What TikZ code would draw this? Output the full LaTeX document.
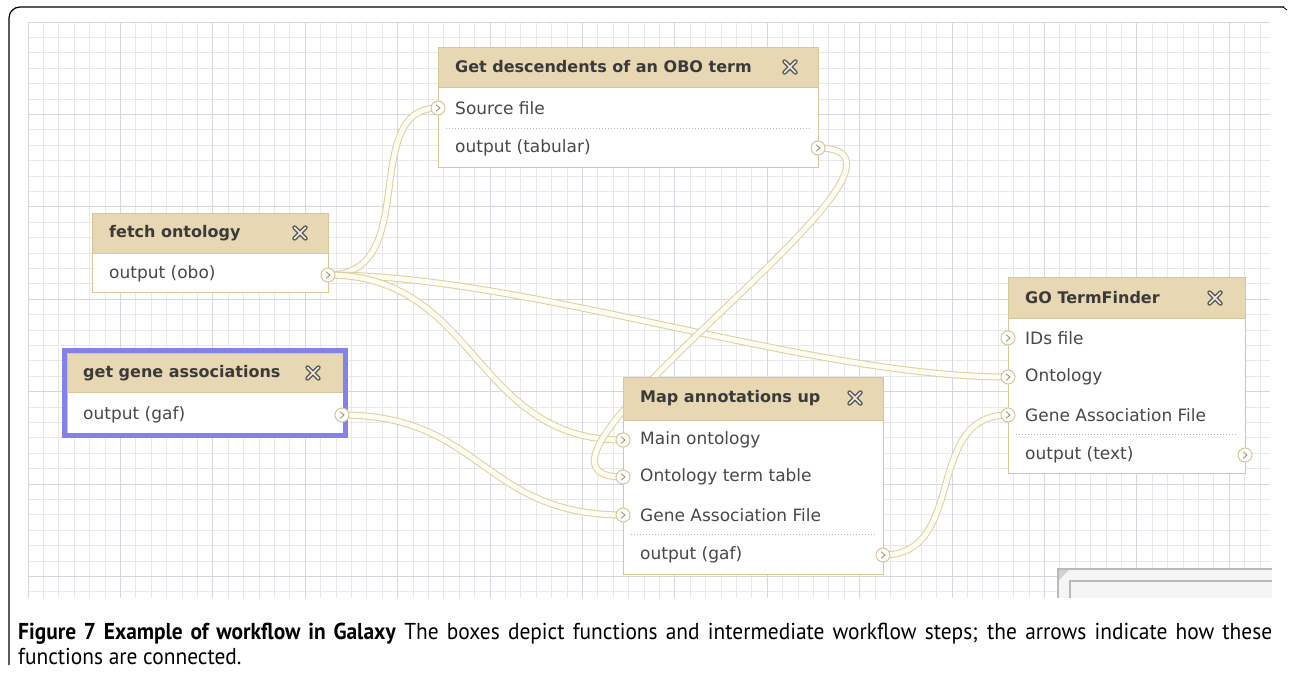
\documentclass[tikz,border=0pt]{standalone}
\usepackage{fontspec}
\newfontfamily\boxfont{DejaVu Sans}
\newfontfamily\capfont[FakeStretch=0.93]{PT Sans}
\usetikzlibrary{calc}

\definecolor{headfill}{RGB}{231,215,178}
\definecolor{boxline}{RGB}{216,198,152}
\definecolor{selblue}{RGB}{130,130,232}
\definecolor{pipeedge}{RGB}{222,206,160}
\definecolor{pipefill}{RGB}{255,253,241}
\definecolor{gridminor}{RGB}{231,231,237}
\definecolor{gridmajor}{RGB}{214,214,222}
\definecolor{textgray}{RGB}{72,72,72}
\definecolor{icongray}{RGB}{85,85,85}

\pgfdeclarelayer{grid}
\pgfdeclarelayer{pipes}
\pgfsetlayers{grid,pipes,main}

\tikzset{
    stepbody/.style={draw=boxline, fill=white, line width=1.2pt, anchor=north west, inner sep=0},
    stephead/.style={draw=boxline, fill=headfill, line width=1.2pt, anchor=north west, inner sep=0},
    titletext/.style={anchor=west, inner sep=0, text=textgray!80!black, font=\boxfont\bfseries\fontsize{16}{16}\selectfont},
    rowtext/.style={anchor=west, inner sep=0, text=textgray, font=\boxfont\fontsize{17}{17}\selectfont},
    sepline/.style={draw=gray!60, dotted, line width=1pt},
    selframe/.style={draw=selblue, line width=5pt},
    pipe/.style={draw=pipeedge, line width=1pt, double=pipefill, double distance=5pt},
    port/.style={circle, draw=boxline, fill=white, line width=1pt, minimum size=14pt, inner sep=0,
        path picture={\draw[boxline!75!black, line width=0.9pt]
            ([xshift=-1.8pt,yshift=3.2pt]path picture bounding box.center) --
            ([xshift=2pt]path picture bounding box.center) --
            ([xshift=-1.8pt,yshift=-3.2pt]path picture bounding box.center);}},
    closeicon/.style={minimum size=20pt, inner sep=0,
        path picture={
            \draw[icongray, line width=4.4pt, line cap=round]
                ([xshift=-5.5pt,yshift=5.5pt]path picture bounding box.center) --
                ([xshift=5.5pt,yshift=-5.5pt]path picture bounding box.center)
                ([xshift=-5.5pt,yshift=-5.5pt]path picture bounding box.center) --
                ([xshift=5.5pt,yshift=5.5pt]path picture bounding box.center);
            \draw[headfill!40!white, line width=1.6pt, line cap=round]
                ([xshift=-5.5pt,yshift=5.5pt]path picture bounding box.center) --
                ([xshift=5.5pt,yshift=-5.5pt]path picture bounding box.center)
                ([xshift=-5.5pt,yshift=-5.5pt]path picture bounding box.center) --
                ([xshift=5.5pt,yshift=5.5pt]path picture bounding box.center);}},
    captext/.style={anchor=north west, inner sep=0, text width=1254pt, align=justify,
        font=\capfont\fontsize{23}{25}\selectfont}
}

\begin{document}
\begin{tikzpicture}[x=1pt, y=-1pt]
    \useasboundingbox (0,0) rectangle (1290,672);

    % page frame
    \draw[line width=1.2pt, rounded corners=11pt] (9,665) -- (9,7) -- (1284,7);
    \draw[line width=0.8pt] (1283,7) -- (1287,10);

    % canvas grid
    \begin{pgfonlayer}{grid}
        \foreach \i in {0,...,80} {
            \draw[gridminor, line width=0.9pt] ({28+15.4*\i},22) -- ({28+15.4*\i},598);
        }
        \foreach \j in {0,...,37} {
            \draw[gridminor, line width=0.9pt] (28,{22+15.4*\j}) -- (1270,{22+15.4*\j});
        }
        \foreach \i in {0,6,...,78} {
            \draw[gridmajor, line width=0.9pt] ({28+15.4*\i},22) -- ({28+15.4*\i},598);
        }
        \foreach \j in {0,6,...,36} {
            \draw[gridmajor, line width=0.9pt] (28,{22+15.4*\j}) -- (1270,{22+15.4*\j});
        }
    \end{pgfonlayer}

    % overview widget
    \fill[gray!8] (1058,568) rectangle (1272,598);
    \draw[gray!55, line width=1.4pt] (1272,569) -- (1058,569) -- (1058,598);
    \draw[gray!55, line width=1.4pt] (1272,581) -- (1070,581) -- (1070,598);
    \fill[gray!35] (1059,570) -- (1069,570) -- (1059,580) -- cycle;

    % Get descendents of an OBO term
    \node[stepbody, minimum width=380pt, minimum height=120pt] (ds) at (438,47) {};
    \node[stephead, minimum width=380pt, minimum height=40pt] (ds-head) at (438,47) {};
    \node[titletext] (ds-title) at (455,67) {Get descendents of an OBO term};
    \node[closeicon] (ds-close) at (790,67) {};
    \node[rowtext] (ds-src) at (455,108) {Source file};
    \draw[sepline] (446,128) -- (810,128);
    \node[rowtext] (ds-tab) at (455,148) {output (tabular)};
    \node[port] (ds-in) at (438,108) {};
    \node[port] (ds-out) at (818,148) {};

    % fetch ontology
    \node[stepbody, minimum width=236pt, minimum height=79pt] (fo) at (92,213) {};
    \node[stephead, minimum width=236pt, minimum height=40pt] (fo-head) at (92,213) {};
    \node[titletext] (fo-title) at (109,233) {fetch ontology};
    \node[closeicon] (fo-close) at (300,233) {};
    \node[rowtext] (fo-obo) at (109,274) {output (obo)};
    \node[port] (fo-out) at (328,275) {};

    % get gene associations (selected)
    \node[stepbody, minimum width=276pt, minimum height=80pt] (ga) at (67,353) {};
    \node[stephead, minimum width=276pt, minimum height=39pt] (ga-head) at (67,353) {};
    \node[titletext] (ga-title) at (83,373) {get gene associations};
    \node[closeicon] (ga-close) at (313,373) {};
    \node[rowtext] (ga-gaf) at (83,415) {output (gaf)};
    \draw[selframe] (64.5,350.5) rectangle (345.5,435.5);
    \node[port] (ga-out) at (342,415) {};

    % Map annotations up
    \node[stepbody, minimum width=260pt, minimum height=197pt] (ma) at (623,377) {};
    \node[stephead, minimum width=260pt, minimum height=43pt] (ma-head) at (623,377) {};
    \node[titletext] (ma-title) at (640,398) {Map annotations up};
    \node[closeicon] (ma-close) at (855,398) {};
    \node[rowtext] (ma-main) at (640,440) {Main ontology};
    \node[rowtext] (ma-term) at (640,477) {Ontology term table};
    \node[rowtext] (ma-gene) at (640,515) {Gene Association File};
    \draw[sepline] (631,534) -- (875,534);
    \node[rowtext] (ma-gaf) at (640,555) {output (gaf)};
    \node[port] (ma-in1) at (623,440) {};
    \node[port] (ma-in2) at (623,477) {};
    \node[port] (ma-in3) at (623,515) {};
    \node[port] (ma-out) at (883,555) {};

    % GO TermFinder
    \node[stepbody, minimum width=237pt, minimum height=196pt] (gt) at (1008,277) {};
    \node[stephead, minimum width=237pt, minimum height=41pt] (gt-head) at (1008,277) {};
    \node[titletext] (gt-title) at (1025,298) {GO TermFinder};
    \node[closeicon] (gt-close) at (1215,298) {};
    \node[rowtext] (gt-ids) at (1025,338) {IDs file};
    \node[rowtext] (gt-ont) at (1025,377) {Ontology};
    \node[rowtext] (gt-gene) at (1025,415) {Gene Association File};
    \draw[sepline] (1016,434) -- (1237,434);
    \node[rowtext] (gt-text) at (1025,455) {output (text)};
    \node[port] (gt-in1) at (1008,338) {};
    \node[port] (gt-in2) at (1008,377) {};
    \node[port] (gt-in3) at (1008,415) {};
    \node[port] (gt-out) at (1245,455) {};

    % connections
    \begin{pgfonlayer}{pipes}
        \draw[pipe] (fo-out.center) .. controls +(95,0) and +(-80,0) .. (ds-in.center);
        \draw[pipe] (fo-out.center) .. controls +(200,0) and +(-200,0) .. (gt-in2.center);
        \draw[pipe] (fo-out.center) .. controls +(150,0) and +(-150,0) .. (ma-in1.center);
        \draw[pipe] (ga-out.center) .. controls +(140,0) and +(-140,0) .. (ma-in3.center);
        \draw[pipe] (ds-out.center) .. controls +(150,0) and +(-150,0) .. (ma-in2.center);
        \draw[pipe] (ma-out.center) .. controls +(85,0) and +(-85,0) .. (gt-in3.center);
    \end{pgfonlayer}

    % caption
    \node[captext] (cap) at (18,623) {\textbf{Figure 7 Example of workflow in Galaxy} The boxes depict functions and intermediate workflow steps; the arrows indicate how these\linebreak functions are connected.};
\end{tikzpicture}
\end{document}
